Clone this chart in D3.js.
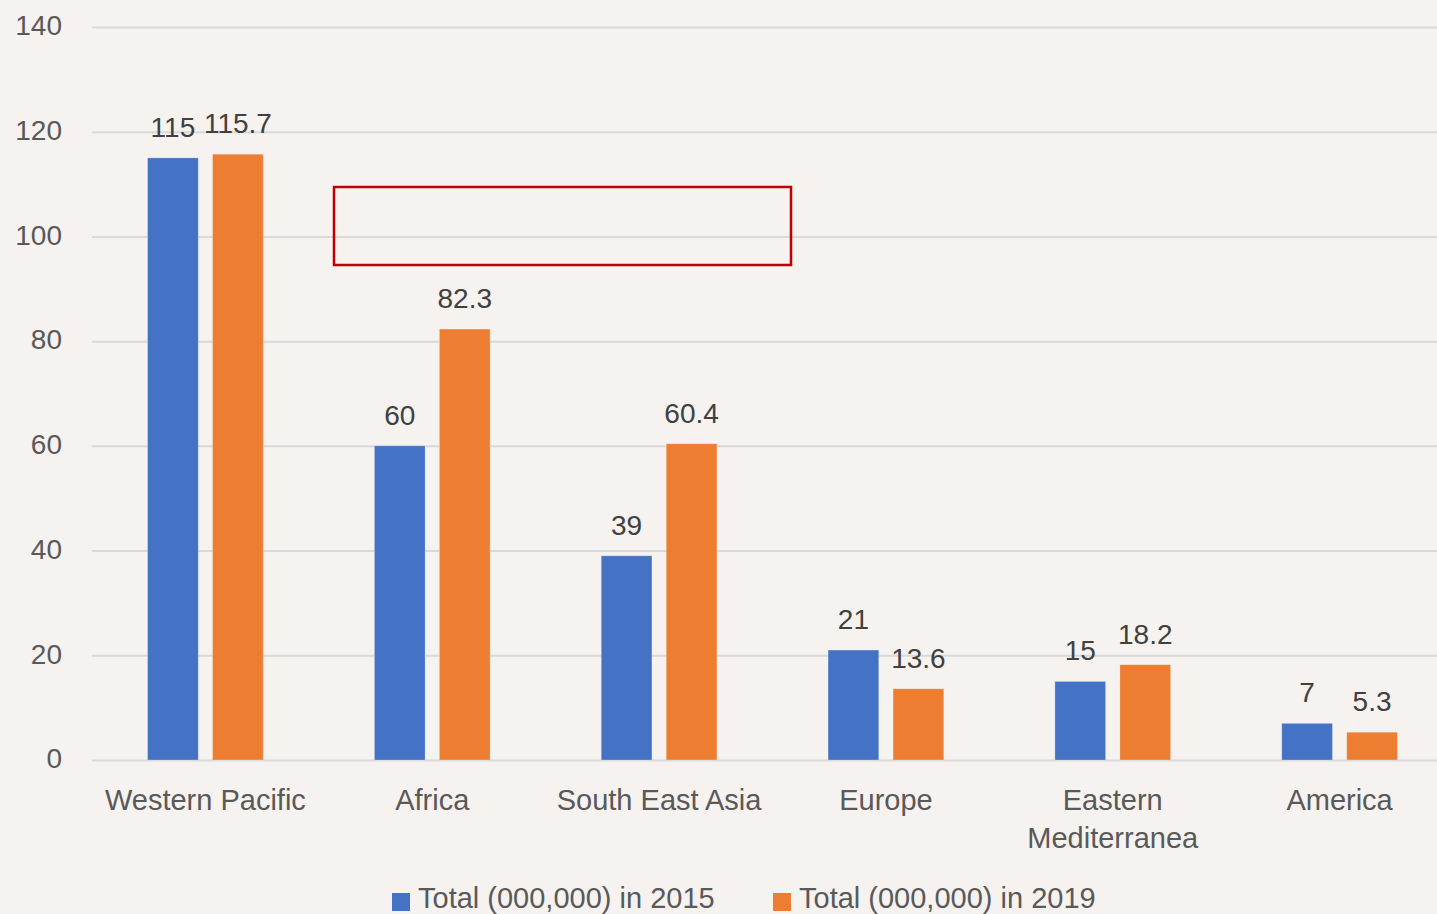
<!DOCTYPE html>
<html>
<head>
<meta charset="utf-8">
<script src="https://cdn.jsdelivr.net/npm/d3@7/dist/d3.min.js"></script>
<style>
  html, body { margin: 0; padding: 0; background: #F5F2EF; overflow: hidden; }
  svg { display: block; }
</style>
</head>
<body>
<svg id="chart" width="1437" height="914"></svg>
<script>
// ---- data ----
const categories = ["Western Pacific", "Africa", "South East Asia", "Europe", "Eastern Mediterranea", "America"];
const categoryLines = [["Western Pacific"], ["Africa"], ["South East Asia"], ["Europe"], ["Eastern", "Mediterranea"], ["America"]];
const seriesNames = ["Total (000,000) in 2015", "Total (000,000) in 2019"];
const values2015 = [115, 60, 39, 21, 15, 7];
const values2019 = [115.7, 82.3, 60.4, 13.6, 18.2, 5.3];
const labels2015 = ["115", "60", "39", "21", "15", "7"];
const labels2019 = ["115.7", "82.3", "60.4", "13.6", "18.2", "5.3"];
const yTicks = [0, 20, 40, 60, 80, 100, 120, 140];
const colors = ["#4472C4", "#ED7D31"];

// ---- layout ----
const W = 1437, H = 914;
const plotLeft = 92, plotRightFull = 1453, yTop = 27, yBottom = 760;
const font = "'Liberation Sans', Arial, sans-serif";

const svg = d3.select("#chart");
svg.append("rect").attr("width", W).attr("height", H).attr("fill", "#F5F2EF");

const y = d3.scaleLinear().domain([0, 140]).range([yBottom, yTop]);
const x0 = d3.scaleBand().domain(categories).range([plotLeft, plotRightFull]).paddingInner(0).paddingOuter(0);
const bw = x0.bandwidth();
const x1 = d3.scaleBand().domain([0, 1]).range([bw * 0.245, bw * 0.755]).paddingInner(0.22).paddingOuter(0);

// gridlines
const yAxis = d3.axisLeft(y).tickValues(yTicks).tickSize(-(W - plotLeft)).tickPadding(30).tickFormat(d3.format("d"));
const gAxis = svg.append("g").attr("transform", `translate(${plotLeft},0)`).call(yAxis);
gAxis.select(".domain").remove();
gAxis.selectAll(".tick line").attr("stroke", "#D9D9D9").attr("stroke-width", 2);
gAxis.selectAll(".tick text")
  .attr("fill", "#595959").attr("font-family", font).attr("font-size", 28)
  .attr("dy", "0.28em").attr("x", -30);

// bars
const rows = categories.map((c, i) => ({ c, vals: [values2015[i], values2019[i]], labs: [labels2015[i], labels2019[i]] }));
const groups = svg.selectAll("g.grp").data(rows).enter().append("g")
  .attr("class", "grp").attr("transform", d => `translate(${x0(d.c)},0)`);

groups.selectAll("rect").data(d => d.vals.map((v, k) => ({ v, k }))).enter().append("rect")
  .attr("x", d => x1(d.k)).attr("width", x1.bandwidth())
  .attr("y", d => y(d.v)).attr("height", d => y(0) - y(d.v))
  .attr("fill", d => colors[d.k])
  .attr("stroke", "#ffffff").attr("stroke-opacity", 0.25).attr("stroke-width", 1);

groups.selectAll("text.lbl").data(d => d.vals.map((v, k) => ({ v, k, t: d.labs[k] }))).enter().append("text")
  .attr("class", "lbl")
  .attr("x", d => x1(d.k) + x1.bandwidth() / 2)
  .attr("y", d => y(d.v) - 21)
  .attr("text-anchor", "middle")
  .attr("fill", "#404040").attr("font-family", font).attr("font-size", 28)
  .text(d => d.t);

// category labels
categoryLines.forEach((lines, i) => {
  const cx = x0(categories[i]) + bw / 2;
  lines.forEach((ln, j) => {
    svg.append("text")
      .attr("x", cx).attr("y", 810 + j * 38)
      .attr("text-anchor", "middle")
      .attr("fill", "#595959").attr("font-family", font).attr("font-size", 29)
      .text(ln);
  });
});

// red annotation rectangle
svg.append("rect")
  .attr("x", 334).attr("y", 187).attr("width", 457).attr("height", 78)
  .attr("fill", "none").attr("stroke", "#C00000").attr("stroke-width", 2.5);

// legend
const legendItems = [{ name: seriesNames[0], color: colors[0], x: 392 }, { name: seriesNames[1], color: colors[1], x: 773 }];
legendItems.forEach(it => {
  svg.append("rect").attr("x", it.x).attr("y", 893).attr("width", 18).attr("height", 18).attr("fill", it.color);
  svg.append("text").attr("x", it.x + 26).attr("y", 908)
    .attr("fill", "#595959").attr("font-family", font).attr("font-size", 29)
    .text(it.name);
});
</script>
</body>
</html>
